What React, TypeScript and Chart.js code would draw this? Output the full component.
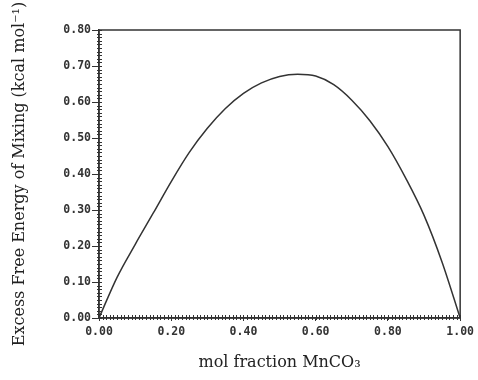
import React, { useEffect, useRef } from "react";
import { Chart, registerables } from "chart.js";

Chart.register(...registerables);

const molFraction = [0, 0.05, 0.1, 0.15, 0.2, 0.25, 0.3, 0.35, 0.4, 0.45, 0.5, 0.55, 0.6, 0.65, 0.7, 0.75, 0.8, 0.85, 0.9, 0.95, 1.0];
const excessEnergy = [0, 0.113, 0.204, 0.291, 0.379, 0.46, 0.527, 0.582, 0.624, 0.653, 0.671, 0.677, 0.672, 0.648, 0.605, 0.548, 0.476, 0.387, 0.285, 0.155, 0];

const xTitle = "mol fraction MnCO\u2083";
const yTitle = "Excess Free Energy of Mixing (kcal mol\u207B\u00B9)";

const INK = "#333";

const frameAndMinorTicks = {
  id: "frameAndMinorTicks",
  afterDraw(chart: any) {
    const { ctx, chartArea, scales } = chart;
    const { left, right, top, bottom } = chartArea;
    ctx.save();
    ctx.strokeStyle = INK;
    ctx.lineWidth = 1;
    for (let i = 0; i <= 80; i++) {
      const py = Math.round(scales.y.getPixelForValue(i / 100)) + 0.5;
      ctx.beginPath();
      ctx.moveTo(left - 2, py);
      ctx.lineTo(left + 3, py);
      ctx.stroke();
    }
    for (let i = 0; i <= 100; i++) {
      const px = Math.round(scales.x.getPixelForValue(i / 100)) + 0.5;
      ctx.beginPath();
      ctx.moveTo(px, bottom - 3);
      ctx.lineTo(px, bottom + 2);
      ctx.stroke();
    }
    ctx.lineWidth = 1.5;
    ctx.strokeRect(left, top, right - left, bottom - top);
    ctx.restore();
  },
};

export default function App() {
  const ref = useRef<HTMLCanvasElement | null>(null);
  useEffect(() => {
    if (!ref.current) return;
    const tickFont = { family: "'DejaVu Sans Mono', monospace", size: 11.5, weight: "bold" as const };
    const titleFont = { family: "'DejaVu Serif', serif", size: 16 };
    const chart = new Chart(ref.current, {
      type: "line",
      data: {
        datasets: [
          {
            data: molFraction.map((x, i) => ({ x, y: excessEnergy[i] })),
            borderColor: INK,
            borderWidth: 1.5,
            pointRadius: 0,
            cubicInterpolationMode: "monotone",
            fill: false,
          },
        ],
      },
      options: {
        animation: false,
        responsive: false,
        maintainAspectRatio: false,
        layout: { padding: { top: 30, right: 15, left: 0, bottom: 0 } },
        plugins: { legend: { display: false }, tooltip: { enabled: false } },
        scales: {
          x: {
            type: "linear",
            min: 0,
            max: 1,
            afterFit: (s: any) => {
              s.height = 62;
            },
            ticks: {
              stepSize: 0.2,
              color: INK,
              padding: 4,
              maxRotation: 0,
              font: tickFont,
              callback: (v: any) => Number(v).toFixed(2),
            },
            grid: { drawOnChartArea: false, tickLength: 3, color: INK },
            border: { color: INK, width: 1.5 },
            title: {
              display: true,
              text: xTitle,
              color: "#222",
              font: titleFont,
              padding: { top: 0, bottom: 8 },
            },
          },
          y: {
            type: "linear",
            min: 0,
            max: 0.8,
            afterFit: (s: any) => {
              s.width = 99;
            },
            ticks: {
              stepSize: 0.1,
              color: INK,
              padding: 1,
              font: tickFont,
              callback: (v: any) => Number(v).toFixed(2),
            },
            grid: { drawOnChartArea: false, tickLength: 7, color: INK },
            border: { color: INK, width: 1.5 },
            title: {
              display: true,
              text: yTitle,
              color: "#222",
              font: titleFont,
              padding: { top: 10, bottom: 0 },
            },
          },
        },
      },
      plugins: [frameAndMinorTicks],
    });
    return () => chart.destroy();
  }, []);
  return (
    <div style={{ position: "absolute", left: 0, top: 0, width: 478, height: 380, background: "#fff" }}>
      <canvas ref={ref} width={478} height={380} style={{ width: 478, height: 380 }} />
    </div>
  );
}
